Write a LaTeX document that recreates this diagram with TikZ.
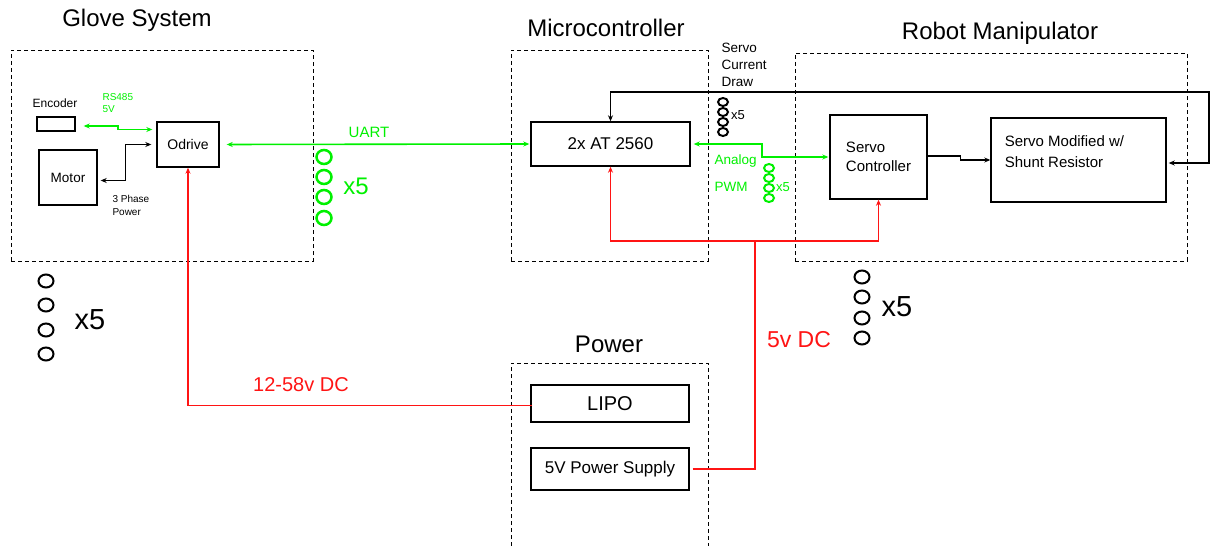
\documentclass[tikz,border=0pt]{standalone}
\usepackage{fontspec}
\setmainfont{Liberation Sans}
\usetikzlibrary{arrows.meta,positioning}
\definecolor{sigGreen}{RGB}{0,240,0}
\definecolor{pwrRed}{RGB}{255,20,20}
\newcommand{\fsz}[2]{\fontsize{#1}{#2}\selectfont}

\begin{document}
\begin{tikzpicture}[x=1pt, y=-1pt, >={Stealth[length=6pt,width=5pt]},
  block/.style={draw, line width=1.4pt, inner sep=0pt},
  group/.style={draw, line width=1pt, dash pattern=on 4pt off 3pt, inner sep=0pt},
  title/.style={font=\fsz{24}{28}},
  sig/.style={sigGreen, line width=1.6pt},
  ctl/.style={black, line width=1.4pt},
  pwr/.style={pwrRed, line width=1.6pt},
  ring/.style={line width=2pt}]
  \useasboundingbox (0,0) rectangle (1211,546);

  % groups
  \node[group, minimum width=302pt, minimum height=211pt] (glove) at (162,155.5) {};
  \node[group, minimum width=197pt, minimum height=211pt] (micro) at (609.5,155.5) {};
  \node[group, minimum width=392pt, minimum height=208pt] (robot) at (991,157) {};
  \draw[line width=1pt, dash pattern=on 4pt off 3pt] (511,546) -- (511,363) -- (708,363) -- (708,546);
  \node[title] (glovet) at (137,20) {Glove System};
  \node[title] (microt) at (606,28) {Microcontroller};
  \node[title] (robott) at (1000,33) {Robot Manipulator};
  \node[title] (powert) at (609,344) {Power};

  % blocks
  \node[block, minimum width=38pt, minimum height=14pt] (encoder) at (56,124) {};
  \node[font=\fsz{12}{14}] (encodert) at (55,103) {Encoder};
  \node[block, minimum width=62pt, minimum height=45pt, font=\fsz{14}{16}] (odrive) at (188,144.5) {Odrive};
  \node[block, minimum width=58pt, minimum height=55pt, font=\fsz{13.5}{16}] (motor) at (68,177.5) {Motor};
  \node[block, minimum width=159pt, minimum height=44pt, font=\fsz{17}{20}] (at) at (610.5,144) {2x AT 2560};
  \node[block, minimum width=97pt, minimum height=84pt, align=left, font=\fsz{15}{19}] (servoctl) at (878.5,157) {Servo\\Controller};
  \node[block, minimum width=175pt, minimum height=84pt,
    label={[anchor=west, align=left, font=\fsz{15}{21}, xshift=11pt, yshift=8pt]west:Servo Modified w/\\Shunt Resistor}] (servomod) at (1078.5,160) {};
  \node[block, minimum width=158pt, minimum height=37pt, font=\fsz{20}{22}] (lipo) at (610,403.5) {LIPO};
  \node[block, minimum width=158pt, minimum height=42pt, font=\fsz{17}{20}] (psu) at (610,469) {5V Power Supply};

  % labels
  \node[anchor=west, align=left, text=sigGreen, font=\fsz{10}{12}] (rs485) at (99,103) {RS485\\5V};
  \node[anchor=west, align=left, font=\fsz{10}{13}] (phase) at (109,205.5) {3 Phase\\Power};
  \node[text=sigGreen, font=\fsz{15}{17}] (uart) at (369,132) {UART};
  \node[anchor=west, align=left, font=\fsz{13.5}{17}] (current) at (718,65) {Servo\\Current\\Draw};
  \node[anchor=west, text=sigGreen, font=\fsz{13.5}{16}] (analog) at (711,161) {Analog};
  \node[anchor=west, text=sigGreen, font=\fsz{13.5}{16}] (pwm) at (711,187) {PWM};
  \node[text=pwrRed, font=\fsz{20}{22}] (lipov) at (301,385) {12-58v DC};
  \node[text=pwrRed, font=\fsz{23}{26}] (psuv) at (799,340) {5v DC};

  % x5 stacks
  \foreach \y in {281,305,330,354}
    \draw[ring] (46,\y) ellipse [x radius=7.5pt, y radius=6.5pt];
  \node[font=\fsz{29}{32}] (gloven) at (90,320) {x5};
  \foreach \y in {157,177,197,218}
    \draw[ring, sigGreen, line width=2.5pt] (324,\y) ellipse [x radius=7.5pt, y radius=7pt];
  \node[text=sigGreen, font=\fsz{24}{26}] (uartn) at (356,186) {x5};
  \foreach \y in {102,112,122,132}
    \draw[ring] (723,\y) ellipse [x radius=5pt, y radius=4pt];
  \node[font=\fsz{13}{15}] (currentn) at (738,115) {x5};
  \foreach \y in {168,178,188,198}
    \draw[ring, sigGreen] (769,\y) ellipse [x radius=5pt, y radius=4pt];
  \node[text=sigGreen, font=\fsz{13}{15}] (pwmn) at (783,187) {x5};
  \foreach \y in {277,297,318,338}
    \draw[ring] (862,\y) ellipse [x radius=7.5pt, y radius=6.5pt];
  \node[font=\fsz{29}{32}] (robotn) at (897,307) {x5};

  % connectors
  \coordinate (fbk) at (1209,92);
  \coordinate (rail) at (755,241);
  \draw[sig, <->, shorten <=8pt, shorten >=4pt] ([yshift=-2pt]encoder.east) -- ++(42,0) |- ([yshift=15pt]odrive.west);
  \draw[ctl, <->, shorten <=3pt, shorten >=5pt] ([yshift=-3pt]motor.east) -- ++(28,0) |- (odrive.west);
  \draw[sig, <->, shorten <=7pt, shorten >=1pt] (odrive.east) -- (at.west);
  \draw[ctl, <->, shorten >=2pt] (at.north) |- (fbk) |- ([yshift=-3pt]servomod.east);
  \draw[sig, <->, shorten <=3pt, shorten >=1pt] (at.east) -- ++(71,0) |- (servoctl.west);
  \draw[ctl, ->] ([yshift=1pt]servoctl.east) -- ++(33,0) |- (servomod.west);
  \draw[pwr, <->] (at.south) |- (rail) -| (servoctl.south);
  \draw[pwr] ([xshift=3pt]psu.east) -| (rail);
  \draw[pwr, ->] ([xshift=2pt, yshift=-2pt]lipo.west) -| (odrive.south);
\end{tikzpicture}
\end{document}
